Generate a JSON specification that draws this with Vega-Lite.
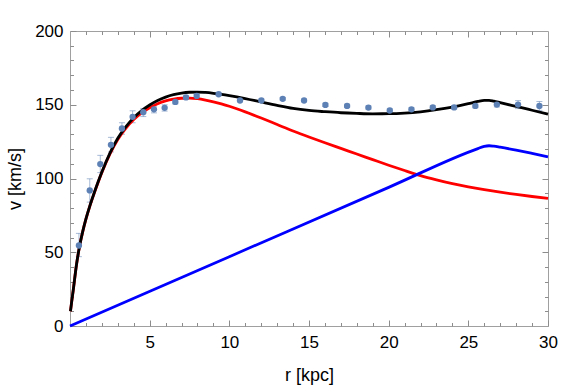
{
  "$schema": "https://vega.github.io/schema/vega-lite/v6.json",
  "width": 478,
  "height": 295,
  "autosize": {"type": "none"},
  "padding": {"left": 70, "top": 31, "right": 33, "bottom": 61},
  "background": "white",
  "config": {
    "view": {"stroke": "#a0a0a0", "strokeWidth": 1},
    "axis": {
      "domain": false,
      "grid": false,
      "tickColor": "#8c8c8c",
      "tickWidth": 1,
      "labelFont": "Liberation Sans",
      "titleFont": "Liberation Sans",
      "labelFontSize": 17,
      "titleFontSize": 18,
      "labelColor": "#000000",
      "titleColor": "#000000",
      "titleFontWeight": "normal"
    }
  },
  "datasets": {
    "pts": [
      {"r": 0.56, "v": 54.6, "lo": 47.0, "hi": 62.8},
      {"r": 1.24, "v": 91.9, "lo": 84.0, "hi": 99.8},
      {"r": 1.9, "v": 109.8, "lo": 104.0, "hi": 115.7},
      {"r": 2.57, "v": 122.8, "lo": 118.0, "hi": 127.9},
      {"r": 3.26, "v": 133.9, "lo": 130.0, "hi": 137.8},
      {"r": 3.93, "v": 141.8, "lo": 137.8, "hi": 145.9},
      {"r": 4.6, "v": 145.0, "lo": 142.0, "hi": 147.5},
      {"r": 5.27, "v": 146.9, "lo": 144.5, "hi": 149.0},
      {"r": 5.94, "v": 147.9, "lo": 145.7, "hi": 150.0},
      {"r": 6.61, "v": 151.9, "lo": 150.5, "hi": 153.3},
      {"r": 7.28, "v": 155.0, "lo": 154.0, "hi": 156.0},
      {"r": 7.95, "v": 156.0, "lo": 155.0, "hi": 157.0},
      {"r": 9.33, "v": 157.1, "lo": 156.2, "hi": 158.0},
      {"r": 10.67, "v": 152.9, "lo": 152.0, "hi": 153.8},
      {"r": 12.01, "v": 152.9, "lo": 152.0, "hi": 153.8},
      {"r": 13.35, "v": 154.0, "lo": 153.1, "hi": 154.9},
      {"r": 14.69, "v": 152.9, "lo": 152.0, "hi": 153.8},
      {"r": 16.03, "v": 149.9, "lo": 148.8, "hi": 151.0},
      {"r": 17.39, "v": 149.2, "lo": 148.1, "hi": 150.3},
      {"r": 18.73, "v": 148.1, "lo": 147.0, "hi": 149.2},
      {"r": 20.07, "v": 146.1, "lo": 145.0, "hi": 147.2},
      {"r": 21.43, "v": 146.9, "lo": 145.8, "hi": 148.0},
      {"r": 22.77, "v": 148.2, "lo": 147.1, "hi": 149.3},
      {"r": 24.11, "v": 148.2, "lo": 147.1, "hi": 149.3},
      {"r": 25.44, "v": 149.2, "lo": 147.9, "hi": 150.5},
      {"r": 26.79, "v": 150.1, "lo": 148.5, "hi": 151.7},
      {"r": 28.12, "v": 150.1, "lo": 147.4, "hi": 152.8},
      {"r": 29.46, "v": 149.2, "lo": 146.2, "hi": 152.2}
    ],
    "red": [
      {"r": 0.03, "v": 10}, {"r": 0.1, "v": 16}, {"r": 0.2, "v": 24}, {"r": 0.4, "v": 41},
      {"r": 0.6, "v": 54}, {"r": 0.8, "v": 64}, {"r": 1.0, "v": 72.4}, {"r": 1.25, "v": 81.4},
      {"r": 1.5, "v": 89.4}, {"r": 1.75, "v": 96.9}, {"r": 2.0, "v": 104}, {"r": 2.5, "v": 116.5},
      {"r": 3.0, "v": 126.5}, {"r": 3.5, "v": 134}, {"r": 4.0, "v": 140}, {"r": 4.5, "v": 144.5},
      {"r": 5.0, "v": 148}, {"r": 5.5, "v": 150.7}, {"r": 6.0, "v": 152.6}, {"r": 6.5, "v": 153.8},
      {"r": 7.0, "v": 154.4}, {"r": 7.5, "v": 154.5}, {"r": 8.0, "v": 154.1}, {"r": 8.5, "v": 153.2},
      {"r": 9.0, "v": 152}, {"r": 9.5, "v": 150.6}, {"r": 10, "v": 149}, {"r": 11, "v": 145.2},
      {"r": 12, "v": 141}, {"r": 13, "v": 136.6}, {"r": 14, "v": 132.2}, {"r": 15, "v": 128.1},
      {"r": 16, "v": 124.2}, {"r": 17, "v": 120.4}, {"r": 18, "v": 116.6}, {"r": 19, "v": 112.8},
      {"r": 20, "v": 109}, {"r": 21, "v": 105.4}, {"r": 22, "v": 102}, {"r": 23, "v": 99.1},
      {"r": 24, "v": 96.5}, {"r": 25, "v": 94.3}, {"r": 26, "v": 92.4}, {"r": 27, "v": 90.7},
      {"r": 28, "v": 89.2}, {"r": 29, "v": 87.8}, {"r": 30, "v": 86.5}
    ],
    "blue": [
      {"r": 0, "v": 0}, {"r": 10, "v": 47}, {"r": 20, "v": 94}, {"r": 25.6, "v": 120.3},
      {"r": 26.0, "v": 121.8}, {"r": 26.3, "v": 122.2}, {"r": 26.6, "v": 121.9}, {"r": 27, "v": 121.2},
      {"r": 28, "v": 119.2}, {"r": 29, "v": 117}, {"r": 30, "v": 114.7}
    ],
    "black": [
      {"r": 0.03, "v": 10}, {"r": 0.1, "v": 16}, {"r": 0.2, "v": 24}, {"r": 0.4, "v": 41.04},
      {"r": 0.6, "v": 54.07}, {"r": 0.8, "v": 64.11}, {"r": 1.0, "v": 72.55}, {"r": 1.25, "v": 81.61},
      {"r": 1.5, "v": 89.68}, {"r": 1.75, "v": 97.25}, {"r": 2.0, "v": 104.42}, {"r": 2.5, "v": 117.09},
      {"r": 3.0, "v": 127.28}, {"r": 3.5, "v": 135.0}, {"r": 4.0, "v": 141.26}, {"r": 4.5, "v": 146.04},
      {"r": 5.0, "v": 149.85}, {"r": 5.5, "v": 152.9}, {"r": 6.0, "v": 155.18}, {"r": 6.5, "v": 156.8},
      {"r": 7.0, "v": 157.87}, {"r": 7.5, "v": 158.47}, {"r": 8.0, "v": 158.62}, {"r": 8.5, "v": 158.32},
      {"r": 9.0, "v": 157.78}, {"r": 9.5, "v": 157.08}, {"r": 10, "v": 156.24}, {"r": 11, "v": 154.22},
      {"r": 12, "v": 151.86}, {"r": 13, "v": 149.55}, {"r": 14, "v": 147.49}, {"r": 15, "v": 146.13},
      {"r": 16, "v": 145.28}, {"r": 17, "v": 144.58}, {"r": 18, "v": 144.14}, {"r": 19, "v": 143.87},
      {"r": 20, "v": 143.93}, {"r": 21, "v": 144.33}, {"r": 22, "v": 145.24}, {"r": 23, "v": 146.65},
      {"r": 24, "v": 148.45}, {"r": 25, "v": 150.72}, {"r": 25.6, "v": 152.24}, {"r": 26.0, "v": 152.94},
      {"r": 26.3, "v": 152.96}, {"r": 26.6, "v": 152.42}, {"r": 27, "v": 151.44}, {"r": 28, "v": 148.88},
      {"r": 29, "v": 146.28}, {"r": 30, "v": 143.66}
    ]
  },
  "resolve": {"axis": {"x": "independent", "y": "independent"}},
  "layer": [
    {
      "data": {"name": "pts"},
      "mark": {"type": "rule", "color": "#5E81B5", "opacity": 0.55, "strokeWidth": 1},
      "encoding": {
        "x": {"field": "r", "type": "quantitative",
              "scale": {"domain": [0, 30], "nice": false, "zero": false},
              "axis": {"orient": "bottom", "values": [5, 10, 15, 20, 25, 30], "tickSize": -6, "labelPadding": 14, "title": "r [kpc]", "titlePadding": 16, "labelFlush": false, "labelOverlap": false}},
        "y": {"field": "lo", "type": "quantitative",
              "scale": {"domain": [0, 200], "nice": false, "zero": false},
              "axis": {"orient": "left", "values": [0, 50, 100, 150, 200], "tickSize": -6, "labelPadding": 13, "title": "v [km/s]", "titlePadding": 10, "labelFlush": false, "labelOverlap": false}},
        "y2": {"field": "hi"}
      }
    },
    {
      "data": {"name": "pts"},
      "mark": {"type": "tick", "orient": "horizontal", "color": "#5E81B5", "opacity": 0.55, "size": 6, "thickness": 1},
      "encoding": {
        "x": {"field": "r", "type": "quantitative",
              "axis": {"orient": "bottom", "values": [1,2,3,4,6,7,8,9,11,12,13,14,16,17,18,19,21,22,23,24,26,27,28,29], "tickSize": -3.5, "labels": false, "title": null}},
        "y": {"field": "lo", "type": "quantitative",
              "axis": {"orient": "left", "values": [10,20,30,40,60,70,80,90,110,120,130,140,160,170,180,190], "tickSize": -3.5, "labels": false, "title": null}}
      }
    },
    {
      "data": {"name": "pts"},
      "mark": {"type": "tick", "orient": "horizontal", "color": "#5E81B5", "opacity": 0.55, "size": 6, "thickness": 1},
      "encoding": {
        "x": {"field": "r", "type": "quantitative",
              "axis": {"orient": "top", "values": [5, 10, 15, 20, 25], "tickSize": -6, "labels": false, "title": null}},
        "y": {"field": "hi", "type": "quantitative",
              "axis": {"orient": "right", "values": [50, 100, 150], "tickSize": -6, "labels": false, "title": null}}
      }
    },
    {
      "data": {"name": "red"},
      "mark": {"type": "line", "color": "#FF0000", "strokeWidth": 2.8, "interpolate": "monotone"},
      "encoding": {
        "x": {"field": "r", "type": "quantitative",
              "axis": {"orient": "top", "values": [1,2,3,4,6,7,8,9,11,12,13,14,16,17,18,19,21,22,23,24,26,27,28,29], "tickSize": -3.5, "labels": false, "title": null}},
        "y": {"field": "v", "type": "quantitative",
              "axis": {"orient": "right", "values": [10,20,30,40,60,70,80,90,110,120,130,140,160,170,180,190], "tickSize": -3.5, "labels": false, "title": null}}
      }
    },
    {
      "data": {"name": "blue"},
      "mark": {"type": "line", "color": "#0000FF", "strokeWidth": 2.8, "interpolate": "monotone"},
      "encoding": {
        "x": {"field": "r", "type": "quantitative", "axis": null},
        "y": {"field": "v", "type": "quantitative", "axis": null}
      }
    },
    {
      "data": {"name": "black"},
      "mark": {"type": "line", "color": "#000000", "strokeWidth": 2.8, "interpolate": "monotone"},
      "encoding": {
        "x": {"field": "r", "type": "quantitative", "axis": null},
        "y": {"field": "v", "type": "quantitative", "axis": null}
      }
    },
    {
      "data": {"name": "pts"},
      "mark": {"type": "circle", "color": "#5E81B5", "opacity": 1, "size": 40},
      "encoding": {
        "x": {"field": "r", "type": "quantitative", "axis": null},
        "y": {"field": "v", "type": "quantitative", "axis": null}
      }
    }
  ]
}
